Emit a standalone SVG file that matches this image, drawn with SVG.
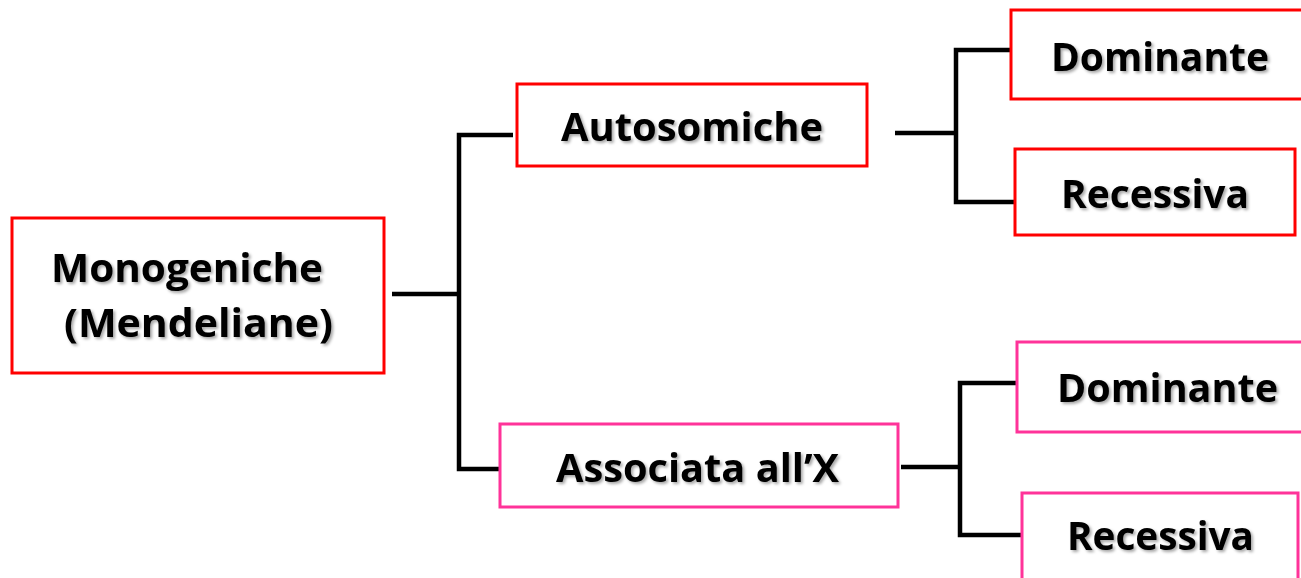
<svg xmlns="http://www.w3.org/2000/svg" width="1301" height="578" viewBox="0 0 1301 578">
<defs>
<filter id="sh" x="-10%" y="-30%" width="120%" height="160%">
<feDropShadow dx="2" dy="2" stdDeviation="1.5" flood-color="#000" flood-opacity="0.35"/>
</filter>
<style>
.box{fill:#fff;stroke-width:3}
.red{stroke:#ff0000}
.pink{stroke:#ff3399}
.t{font-family:"Open Sans","Liberation Sans",sans-serif;font-weight:bold;font-size:39px;fill:#000;filter:url(#sh)}
.c{fill:none;stroke:#000;stroke-width:4.5;stroke-linecap:butt;stroke-linejoin:miter}
</style>
</defs>
<rect width="1301" height="578" fill="#fff"/>
<g id="connectors">
<path class="c" d="M392 294 H459"/>
<path class="c" d="M513 135 H459 V469 H500"/>
<path class="c" d="M895 133 H956"/>
<path class="c" d="M1011 50 H956 V202 H1015"/>
<path class="c" d="M901 467 H960"/>
<path class="c" d="M1017 383 H960 V535 H1022"/>
</g>
<g id="monogeniche">
<rect class="box red" x="12" y="218" width="372" height="155"/>
<text class="t" x="51" y="282" textLength="272" lengthAdjust="spacingAndGlyphs">Monogeniche</text>
<text class="t" x="64" y="337" textLength="269" lengthAdjust="spacingAndGlyphs">(Mendeliane)</text>
</g>
<g id="autosomiche">
<rect class="box red" x="517" y="84" width="350" height="82"/>
<text class="t" x="561" y="141" textLength="262" lengthAdjust="spacingAndGlyphs">Autosomiche</text>
</g>
<g id="dominante-auto">
<rect class="box red" x="1011" y="10" width="300" height="89"/>
<text class="t" x="1051" y="71" textLength="218" lengthAdjust="spacingAndGlyphs">Dominante</text>
</g>
<g id="recessiva-auto">
<rect class="box red" x="1015" y="149" width="280" height="86"/>
<text class="t" x="1061" y="208" textLength="188" lengthAdjust="spacingAndGlyphs">Recessiva</text>
</g>
<g id="associata">
<rect class="box pink" x="500" y="424" width="398" height="83"/>
<text class="t" x="556" y="482" textLength="283" lengthAdjust="spacingAndGlyphs">Associata all’X</text>
</g>
<g id="dominante-x">
<rect class="box pink" x="1017" y="342" width="300" height="90"/>
<text class="t" x="1057" y="402" textLength="221" lengthAdjust="spacingAndGlyphs">Dominante</text>
</g>
<g id="recessiva-x">
<rect class="box pink" x="1022" y="493" width="276" height="100"/>
<text class="t" x="1067" y="550" textLength="187" lengthAdjust="spacingAndGlyphs">Recessiva</text>
</g>
</svg>
